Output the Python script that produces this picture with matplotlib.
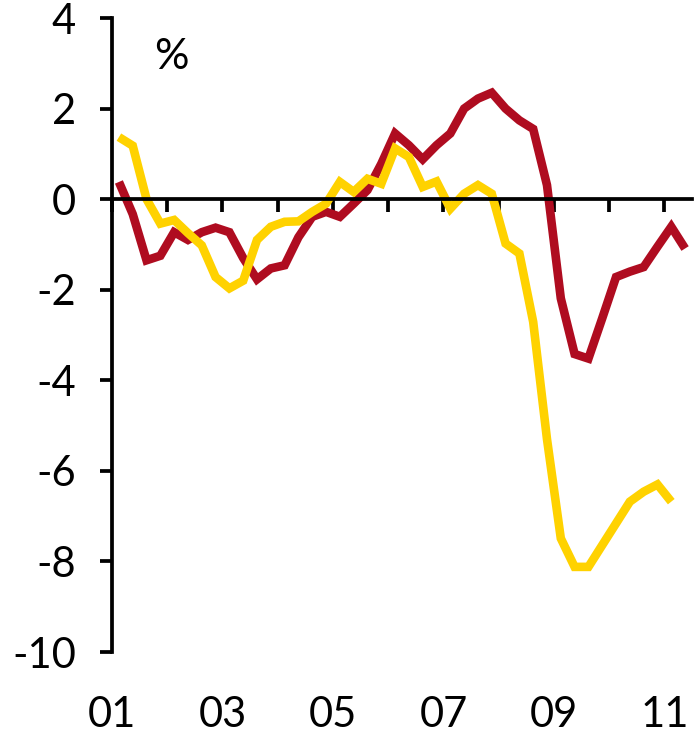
#!/usr/bin/env python3
# -*- coding: utf-8 -*-
"""
四半期の伸び率推移（2系列）を描くスクリプト
"""

import numpy as np
import matplotlib
matplotlib.use('Agg')
import matplotlib.pyplot as plt

# 年ラベル
year_ticks = [2001, 2003, 2005, 2007, 2009, 2011]
year_labels = ['01', '03', '05', '07', '09', '11']

# 系列データ（%）- 2001年Q1から四半期ごと
red_values = [0.38, -0.33, -1.35, -1.25, -0.73, -0.9, -0.73, -0.63, -0.73, -1.3,
              -1.77, -1.53, -1.46, -0.84, -0.39, -0.28, -0.39, -0.1, 0.2, 0.78,
              1.45, 1.19, 0.88, 1.19, 1.45, 2.0, 2.22, 2.35, 2.0, 1.74,
              1.55, 0.31, -2.19, -3.42, -3.52, -2.63, -1.72, -1.6, -1.5, -1.05,
              -0.61, -1.09]
yellow_values = [1.37, 1.18, 0.0, -0.54, -0.46, -0.75, -1.02, -1.72, -1.97, -1.8,
                 -0.9, -0.61, -0.5, -0.49, -0.28, -0.1, 0.38, 0.16, 0.45, 0.34,
                 1.12, 0.93, 0.27, 0.39, -0.21, 0.12, 0.31, 0.12, -0.98, -1.2,
                 -2.71, -5.3, -7.49, -8.12, -8.12, -7.64, -7.16, -6.68, -6.46, -6.3,
                 -6.68]

RED = '#AF0C20'
YELLOW = '#FFD200'


def quarter_positions(n, start=2001.125):
    """四半期の中央位置（年単位）"""
    return start + 0.25 * np.arange(n)


def main():
    plt.rcParams['font.family'] = ['Lato', 'DejaVu Sans']
    plt.rcParams['axes.unicode_minus'] = False

    fig = plt.figure(figsize=(6.94, 7.35), dpi=100)
    ax = fig.add_axes([0.1614, 0.1129, 0.8357, 0.8626])

    ax.plot(quarter_positions(len(red_values)), red_values,
            color=RED, lw=6.2, solid_joinstyle='miter', solid_capstyle='butt')
    ax.plot(quarter_positions(len(yellow_values)), yellow_values,
            color=YELLOW, lw=6.2, solid_joinstyle='miter', solid_capstyle='butt')

    ax.set_xlim(2001, 2011.5)
    ax.set_ylim(-10, 4)

    # 軸の見た目
    for side in ['top', 'right']:
        ax.spines[side].set_visible(False)
    ax.spines['left'].set_linewidth(2.7)
    ax.spines['bottom'].set_linewidth(2.7)
    ax.spines['bottom'].set_position(('data', 0))

    ax.set_yticks(np.arange(-10, 5, 2))
    ax.tick_params(axis='y', length=9, width=2.7, pad=17, labelsize=30)

    ax.set_xticks(np.arange(2001, 2012))
    ax.tick_params(axis='x', direction='out', length=9, width=2.7,
                   labelbottom=False)

    # 年ラベルは下端に
    sec = ax.secondary_xaxis('bottom')
    sec.spines['bottom'].set_visible(False)
    sec.set_xticks(year_ticks, year_labels)
    sec.tick_params(length=0, pad=32, labelsize=30)

    ax.text(0.102, 0.9385, '%', transform=ax.transAxes, fontsize=31,
            ha='center', va='center')

    fig.savefig('out.png', dpi=100)
    plt.close(fig)


if __name__ == "__main__":
    main()
